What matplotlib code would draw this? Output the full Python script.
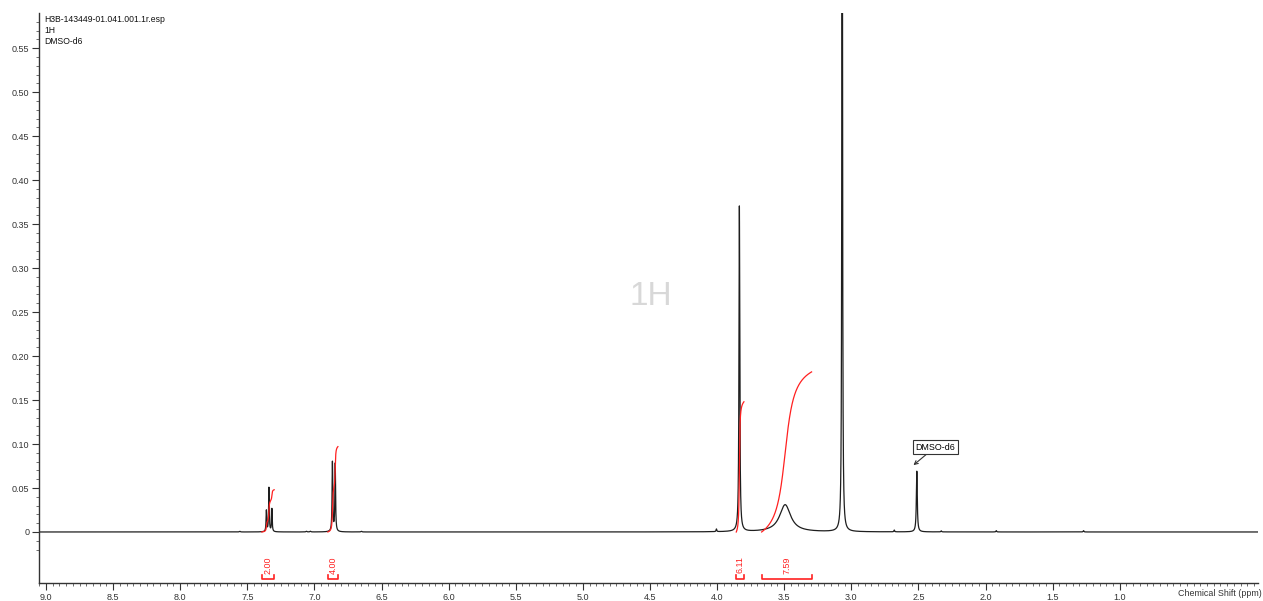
import numpy as np
import matplotlib
matplotlib.use('Agg')
import matplotlib.pyplot as plt
from matplotlib.ticker import FixedLocator

plt.rcParams['font.family'] = ['Liberation Sans', 'DejaVu Sans']

# ---- data ----
peak_ppm = [7.358, 7.339, 7.317, 6.866, 6.845, 3.834, 3.493, 3.068, 2.512,
            7.556, 7.06, 7.03, 6.65, 4.005, 2.68, 2.33, 1.92, 1.27]
peak_height = [0.024, 0.050, 0.026, 0.079, 0.077, 0.37, 0.031, 1.2, 0.069,
               0.0008, 0.0008, 0.0008, 0.0008, 0.003, 0.002, 0.0012, 0.0015, 0.0015]
peak_hwhm = [0.0028, 0.0028, 0.0028, 0.003, 0.003, 0.0035, 0.05, 0.0025, 0.004,
             0.004, 0.004, 0.004, 0.004, 0.003, 0.003, 0.003, 0.003, 0.003]

integ_start = [7.392, 6.900, 3.857, 3.668]
integ_end = [7.300, 6.825, 3.800, 3.296]
integ_height = [0.048, 0.097, 0.148, 0.182]
integ_labels = ['2.00', '4.00', '6.11', '7.59']

header_lines = ['H3B-143449-01.041.001.1r.esp', '1H', 'DMSO-d6']
ytick_vals = [0, 0.05, 0.10, 0.15, 0.20, 0.25, 0.30, 0.35, 0.40, 0.45, 0.50, 0.55]
ytick_labels = ['0', '0.05', '0.10', '0.15', '0.20', '0.25', '0.30', '0.35',
                '0.40', '0.45', '0.50', '0.55']
xtick_vals = [9.0, 8.5, 8.0, 7.5, 7.0, 6.5, 6.0, 5.5, 5.0, 4.5, 4.0, 3.5, 3.0, 2.5, 2.0, 1.5, 1.0]

# ---- spectrum ----
ppm = np.linspace(9.06, -0.04, 300000)
spec = np.zeros_like(ppm)
for p, h, w in zip(peak_ppm, peak_height, peak_hwhm):
    spec += h * w**2 / ((ppm - p)**2 + w**2)

W, H = 1263, 601
fig = plt.figure(figsize=(W / 100, H / 100), dpi=100)
ax = fig.add_axes([39 / W, (H - 583) / H, (1258 - 39) / W, (583 - 13) / H])

ax.plot(ppm, spec, color='#1e1e1e', lw=0.9)

# integral curves & brackets
for s, e, hgt, lab in zip(integ_start, integ_end, integ_height, integ_labels):
    m = (ppm <= s) & (ppm >= e)
    c = np.cumsum(spec[m])
    c = c / c[-1] * hgt
    ax.plot(ppm[m], c, color='#ff2020', lw=0.9)
    yb, yt = -0.0535, -0.0485
    ax.plot([s, s, e, e], [yt, yb, yb, yt], color='#ff2020', lw=1.2, clip_on=False)
    ax.text((s + e) / 2, -0.0375, lab, rotation=90, color='#ff2020', fontsize=6.4,
            ha='center', va='center')

ax.set_xlim(9.052, -0.03)
ax.set_ylim(-0.058, 0.59)

for sp in ['top', 'right']:
    ax.spines[sp].set_visible(False)
for sp in ['left', 'bottom']:
    ax.spines[sp].set_color('#333333')
    ax.spines[sp].set_linewidth(1.0)

ax.yaxis.set_major_locator(FixedLocator(ytick_vals))
ax.set_yticklabels(ytick_labels)
ax.yaxis.set_minor_locator(FixedLocator([v / 100 for v in range(-2, 59)]))
ax.xaxis.set_major_locator(FixedLocator(xtick_vals))
ax.set_xticklabels([f'{v:.1f}' for v in xtick_vals])
ax.xaxis.set_minor_locator(FixedLocator([v / 100 for v in range(0, 906, 5)]))
ax.tick_params(axis='both', which='major', length=5, width=0.8, color='#333333',
               labelsize=6.5, labelcolor='#333333', pad=2)
ax.tick_params(axis='both', which='minor', length=2.5, width=0.6, color='#555555')

fig.text(1262 / W, (H - 594) / H, 'Chemical Shift (ppm)', fontsize=6.4,
         color='#333333', ha='right', va='center')

for i, line in enumerate(header_lines):
    fig.text(44 / W, 1 - (19.5 + 10.8 * i) / H, line, fontsize=6.2, color='#111111',
             ha='left', va='center')

ax.text(0.502, 0.503, '1H', transform=ax.transAxes, fontsize=24, color='#d8d8d8',
        ha='center', va='center')

ax.annotate('DMSO-d6', xy=(2.537, 0.076), xytext=(2.376, 0.0965), textcoords='data',
            fontsize=6.4, ha='center', va='center',
            bbox=dict(boxstyle='square,pad=0.3', fc='white', ec='#333333', lw=0.8),
            arrowprops=dict(arrowstyle='->', color='#333333', lw=0.8, shrinkA=0, shrinkB=0))

fig.savefig('out.png', dpi=100)
